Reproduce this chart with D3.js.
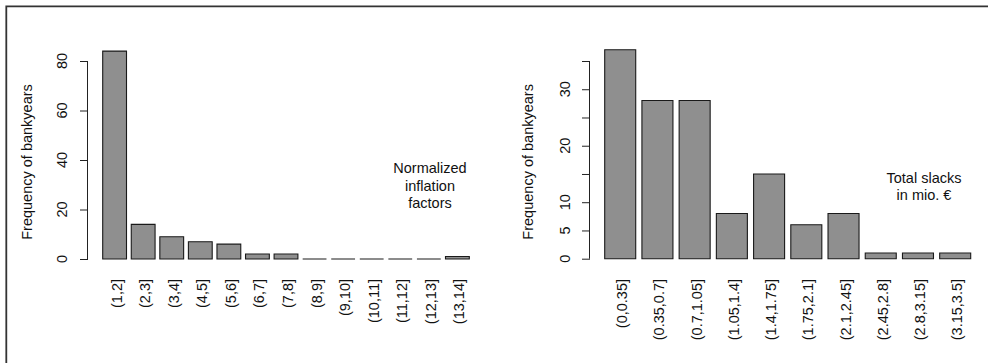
<!DOCTYPE html>
<html>
<head>
<meta charset="utf-8">
<script src="https://cdn.jsdelivr.net/npm/d3@7"></script>
<style>
  html, body { margin: 0; padding: 0; background: #fff; }
  svg { display: block; }
  text { font-family: "Liberation Sans", Arial, sans-serif; fill: #111; }
</style>
</head>
<body>
<svg id="chart" width="988" height="363"></svg>
<script>
// ---- Data ----
const inflationCategories = ["(1,2]","(2,3]","(3,4]","(4,5]","(5,6]","(6,7]","(7,8]","(8,9]","(9,10]","(10,11]","(11,12]","(12,13]","(13,14]"];
const inflationCounts = [84, 14, 9, 7, 6, 2, 2, 0, 0, 0, 0, 0, 1];
const inflationTicks = [0, 20, 40, 60, 80];
const inflationTickLabels = ["0", "20", "40", "60", "80"];

const slackCategories = ["(0,0.35]","(0.35,0.7]","(0.7,1.05]","(1.05,1.4]","(1.4,1.75]","(1.75,2.1]","(2.1,2.45]","(2.45,2.8]","(2.8,3.15]","(3.15,3.5]"];
const slackCounts = [37, 28, 28, 8, 15, 6, 8, 1, 1, 1];
const slackTicks = [0, 5, 10, 15, 20, 25, 30, 35];
const slackTickLabels = ["0", "5", "10", "", "20", "", "30", ""];

const yTitle = "Frequency of bankyears";
const inflationNote = ["Normalized", "inflation", "factors"];
const slackNote = ["Total slacks", "in mio. €"];

// ---- Drawing ----
const svg = d3.select("#chart");

// frame (top and left edges)
svg.append("path")
  .attr("d", "M6.3,363 L6.3,6.3 L988,6.3")
  .attr("fill", "none").attr("stroke", "#333").attr("stroke-width", 1.8);

function panel(cfg) {
  const g = svg.append("g");
  const x = d3.scaleBand().domain(cfg.categories)
    .range([cfg.x0, cfg.x1]).paddingInner(0.2 / 1.2).paddingOuter(0);
  const y = d3.scaleLinear().domain([0, cfg.ymax]).range([cfg.yBase, cfg.yTop]);

  // bars (as closed paths so zero-height bars still show their outline)
  g.selectAll("path.bar").data(cfg.values).join("path")
    .attr("class", "bar")
    .attr("d", (d, i) => {
      const bx = x(cfg.categories[i]), bw = x.bandwidth();
      const top = y(d), base = y(0);
      return `M${bx},${base}H${bx + bw}V${top}H${bx}Z`;
    })
    .attr("fill", "#8f8f8f")
    .attr("stroke", "#1a1a1a")
    .attr("stroke-width", 1.1);

  // y axis
  const axis = d3.axisLeft(y).tickValues(cfg.ticks).tickSize(8)
    .tickFormat(() => "");
  const ag = g.append("g").attr("transform", `translate(${cfg.axisX},0)`).call(axis);
  ag.select(".domain").attr("d", `M-0.5,${y(0)}V${y(cfg.ymax)}`)
    .attr("stroke", "#222");
  ag.selectAll(".tick line").attr("stroke", "#222");

  g.selectAll("text.ytl").data(cfg.ticks).join("text")
    .attr("class", "ytl")
    .attr("transform", d => `translate(${cfg.labelX},${y(d)}) rotate(-90)`)
    .attr("text-anchor", "middle")
    .attr("dominant-baseline", "central")
    .attr("font-size", 14.5)
    .text((d, i) => cfg.tickLabels[i]);

  // y title
  g.append("text")
    .attr("transform", `translate(${cfg.titleX},${(cfg.yBase + cfg.yTop) / 2 + 2}) rotate(-90)`)
    .attr("text-anchor", "middle")
    .attr("dominant-baseline", "central")
    .attr("font-size", 14.5)
    .text(yTitle);

  // x labels
  g.selectAll("text.xl").data(cfg.categories).join("text")
    .attr("class", "xl")
    .attr("transform", d => `translate(${x(d) + x.bandwidth() / 2 + 2},279) rotate(-90)`)
    .attr("text-anchor", "end")
    .attr("dominant-baseline", "central")
    .attr("font-size", 14.5)
    .text(d => d);

  // note
  g.selectAll("text.note").data(cfg.note).join("text")
    .attr("class", "note")
    .attr("x", cfg.noteX)
    .attr("y", (d, i) => cfg.noteY + i * 17.5)
    .attr("text-anchor", "middle")
    .attr("dominant-baseline", "central")
    .attr("font-size", 14.5)
    .text(d => d);
}

panel({
  categories: inflationCategories, values: inflationCounts,
  ticks: inflationTicks, tickLabels: inflationTickLabels, ymax: 80,
  x0: 102.7, x1: 469.3, yBase: 259, yTop: 61,
  axisX: 88, labelX: 62, titleX: 27,
  note: inflationNote, noteX: 430, noteY: 168
});

panel({
  categories: slackCategories, values: slackCounts,
  ticks: slackTicks, tickLabels: slackTickLabels, ymax: 35,
  x0: 604.7, x1: 970.7, yBase: 258.7, yTop: 61,
  axisX: 590, labelX: 564.7, titleX: 528,
  note: slackNote, noteX: 924, noteY: 177.5
});
</script>
</body>
</html>
